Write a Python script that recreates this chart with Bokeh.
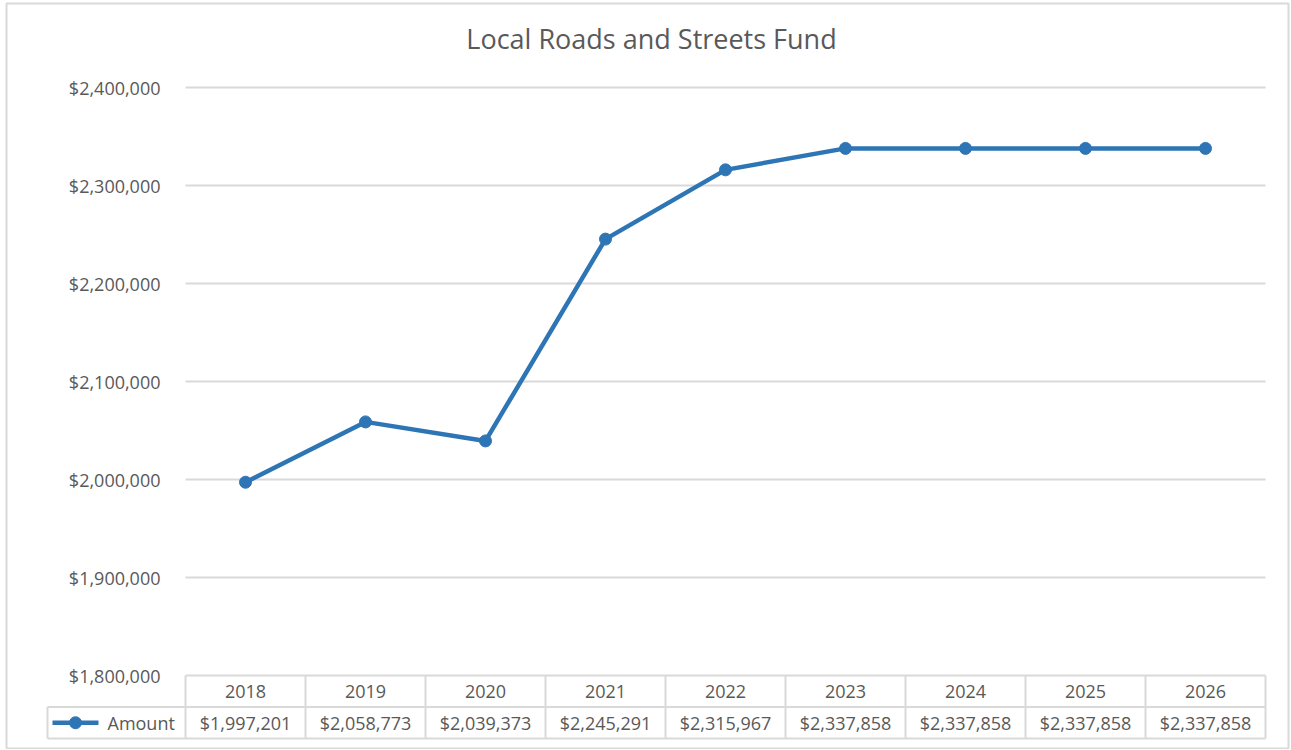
from bokeh.plotting import figure
from bokeh.models import Range1d, FixedTicker, NumeralTickFormatter, ColumnDataSource
from bokeh.core.properties import value
from bokeh.embed import file_html
from bokeh.resources import INLINE

# ---------------- data ----------------
title_text = "Local Roads and Streets Fund"
series_name = "Amount"
years = ["2018", "2019", "2020", "2021", "2022", "2023", "2024", "2025", "2026"]
amounts = [1997201, 2058773, 2039373, 2245291, 2315967, 2337858, 2337858, 2337858, 2337858]
y_ticks = [1800000, 1900000, 2000000, 2100000, 2200000, 2300000, 2400000]

# ---------------- geometry / style ----------------
W, H = 1290, 749
FONT = "Open Sans"
TXT = "#595959"
GRID = "#d9d9d9"
BLUE = "#2e75b6"

PX_CAT = 120.0            # px per category column
PX_VAL = 98.0 / 100000    # px per currency unit
cat0_px = 185             # canvas x of first column's left edge
top_tick_px = 87          # canvas y of top tick
frame_left_px = 4

x0 = (frame_left_px - cat0_px) / PX_CAT
x1 = (W - cat0_px) / PX_CAT
ytop = y_ticks[-1] + top_tick_px / PX_VAL
ybot = y_ticks[-1] - (H - top_tick_px) / PX_VAL


def px_x(px):
    return (px - cat0_px) / PX_CAT


def px_y(py):
    return y_ticks[-1] - (py - top_tick_px) / PX_VAL


n = len(years)
xs = [i + 0.5 for i in range(n)]

p = figure(width=W, height=H, output_backend="svg", toolbar_location=None,
           x_range=Range1d(x0, x1), y_range=Range1d(ybot, ytop),
           x_axis_location=None, min_border_left=frame_left_px,
           min_border_right=0, min_border_top=0, min_border_bottom=0)
p.outline_line_color = None
p.xgrid.visible = False
p.ygrid.visible = False
p.background_fill_color = "white"
p.border_fill_color = "white"

# y axis
ax = p.yaxis[0]
ax.ticker = FixedTicker(ticks=y_ticks)
ax.formatter = NumeralTickFormatter(format="$0,0")
ax.axis_line_color = None
ax.major_tick_line_color = None
ax.minor_tick_line_color = None
ax.major_tick_out = 0
ax.major_tick_in = 0
ax.major_label_standoff = -(160 - frame_left_px)
ax.major_label_text_font = FONT
ax.major_label_text_font_size = "18px"
ax.major_label_text_color = TXT

# chart border
p.quad(left=[px_x(6)], right=[px_x(1288)], top=[px_y(3)], bottom=[px_y(748)],
       fill_color=None, line_color=GRID, line_width=2)

# gridlines (from the table's left edge to its right edge)
grid_src = ColumnDataSource(dict(x0=[0] * (len(y_ticks) - 1), x1=[n] * (len(y_ticks) - 1),
                                 y=y_ticks[1:]))
p.segment(x0="x0", y0="y", x1="x1", y1="y", source=grid_src, line_color=GRID, line_width=2)

# data table
row_h = 31.5 / PX_VAL
hdr_top = y_ticks[0]
hdr_bot = hdr_top - row_h
val_bot = hdr_bot - row_h
legend_left = px_x(47)

# horizontal table lines
p.segment(x0=[0, legend_left, legend_left], y0=[hdr_top, hdr_bot, val_bot],
          x1=[n, n, n], y1=[hdr_top, hdr_bot, val_bot], line_color=GRID, line_width=2)
# vertical table lines
p.segment(x0=list(range(n + 1)), y0=[hdr_top] * (n + 1), x1=list(range(n + 1)),
          y1=[val_bot] * (n + 1), line_color=GRID, line_width=2)
p.segment(x0=[legend_left], y0=[hdr_bot], x1=[legend_left], y1=[val_bot],
          line_color=GRID, line_width=2)

val_labels = ["${:,}".format(v) for v in amounts]
tbl = ColumnDataSource(dict(x=xs, yh=[(hdr_top + hdr_bot) / 2] * n,
                            yv=[(hdr_bot + val_bot) / 2] * n, year=years, val=val_labels))
p.text(x="x", y="yh", text="year", source=tbl, text_align="center", text_baseline="middle",
       text_font=value(FONT), text_font_size="18px", text_color=TXT)
p.text(x="x", y="yv", text="val", source=tbl, text_align="center", text_baseline="middle",
       text_font=value(FONT), text_font_size="18px", text_color=TXT)

# legend key inside the table
ymid = (hdr_bot + val_bot) / 2
p.line(x=[px_x(52), px_x(98)], y=[ymid, ymid], line_color=BLUE, line_width=4.5)
p.scatter(x=[px_x(75)], y=[ymid], size=12, color=BLUE)
p.text(x=[px_x(107)], y=[ymid], text=[series_name], text_align="left",
       text_baseline="middle", text_font=value(FONT), text_font_size="18px", text_color=TXT)

# series
src = ColumnDataSource(dict(x=xs, y=amounts))
p.line(x="x", y="y", source=src, line_color=BLUE, line_width=4.5)
p.scatter(x="x", y="y", source=src, size=12, color=BLUE)

# title
p.text(x=[px_x(651)], y=[px_y(38)], text=[title_text],
       text_align="center", text_baseline="middle", text_font=value(FONT),
       text_font_size="27px", text_color=TXT)

open("out.html", "w").write(file_html(p, INLINE))
